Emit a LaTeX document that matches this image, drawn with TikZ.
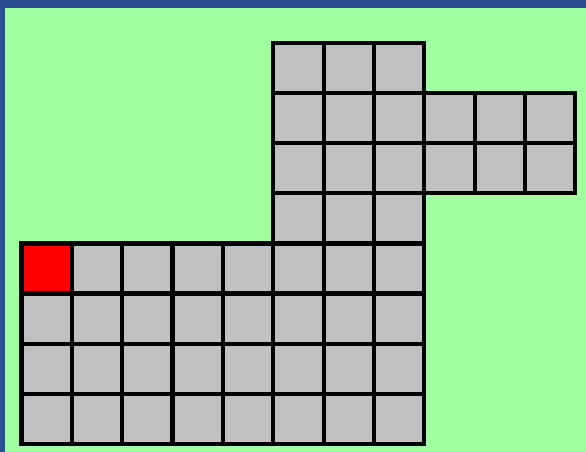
\documentclass[tikz,border=0pt]{standalone}
\definecolor{bgblue}{RGB}{42,76,146}
\definecolor{lgreen}{RGB}{160,255,160}
\definecolor{cellgray}{RGB}{192,192,192}
\begin{document}
\begin{tikzpicture}[x=1pt,y=-1pt,
  cell/.style={fill=cellgray,draw=black,line width=4.2pt},
  redcell/.style={fill=red,draw=black,line width=4.2pt}]
\fill[bgblue] (0,0) rectangle (586,452);
\useasboundingbox (0,0) rectangle (586,452);
\fill[lgreen] (5,8) rectangle (586,452);
\def\cw{50.35}
\def\ch{50.1}
% upper block: rows 0-3, columns 5-7
\foreach \r in {0,1,2,3}{
  \foreach \c in {5,6,7}{
    \draw[cell] ({21.5+\c*\cw},{43+\r*\ch}) rectangle ++(\cw,\ch);
  }
}
% right arm: rows 1-2, columns 8-10
\foreach \r in {1,2}{
  \foreach \c in {8,9,10}{
    \draw[cell] ({21.5+\c*\cw},{43+\r*\ch}) rectangle ++(\cw,\ch);
  }
}
% lower block: rows 4-7, columns 0-7
\foreach \r in {4,5,6,7}{
  \foreach \c in {0,...,7}{
    \draw[cell] ({21.5+\c*\cw},{43+\r*\ch}) rectangle ++(\cw,\ch);
  }
}
\draw[redcell] (21.5,{43+4*\ch}) rectangle ++(\cw,\ch);
\end{tikzpicture}
\end{document}
